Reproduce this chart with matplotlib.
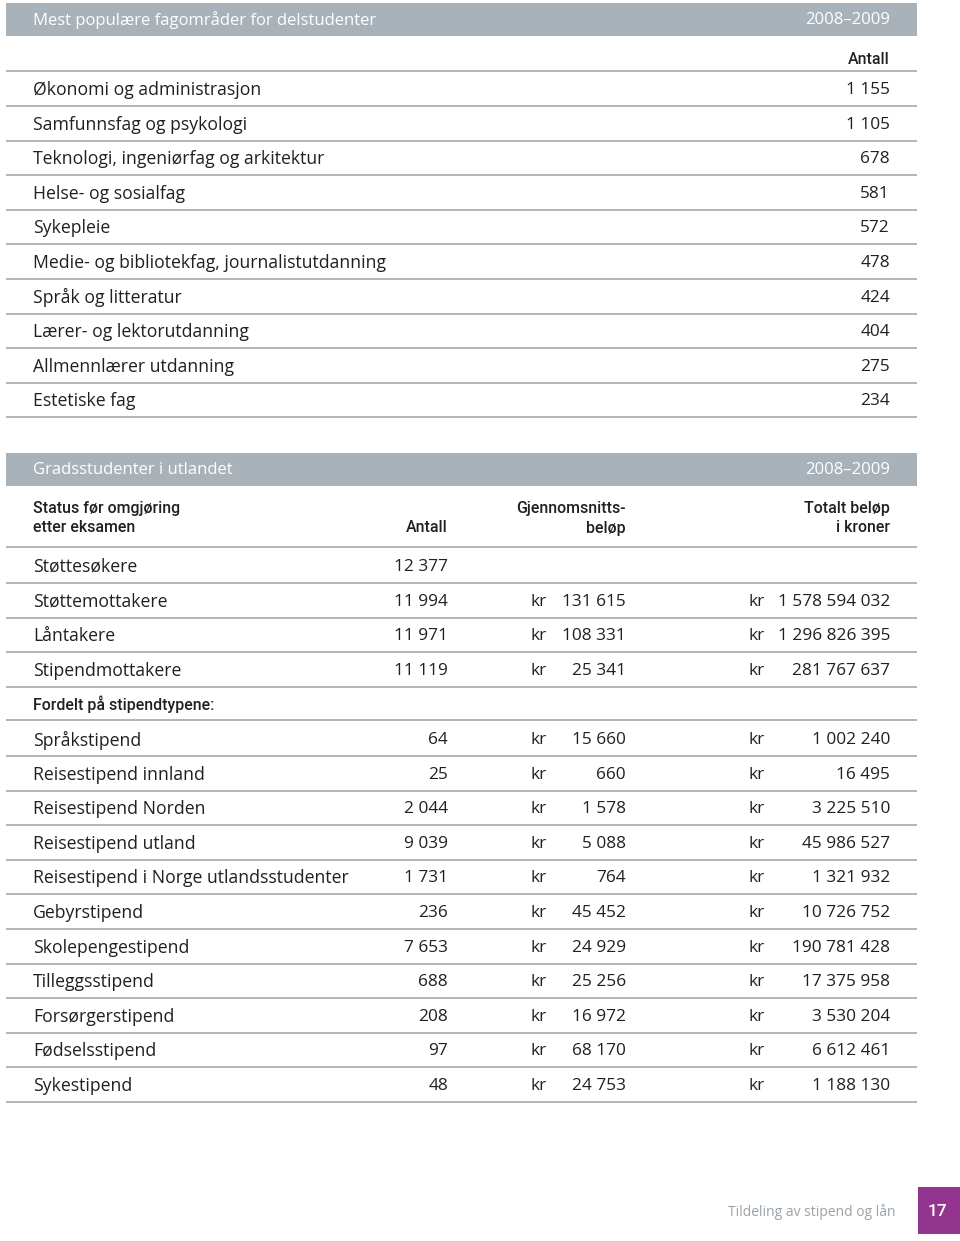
import matplotlib.pyplot as plt

# top table: most popular fields for exchange students
fag = ['Økonomi og administrasjon', 'Samfunnsfag og psykologi',
       'Teknologi, ingeniørfag og arkitektur', 'Helse- og sosialfag', 'Sykepleie',
       'Medie- og bibliotekfag, journalistutdanning', 'Språk og litteratur',
       'Lærer- og lektorutdanning', 'Allmennlærer utdanning', 'Estetiske fag']
fag_antall = ['1 155', '1 105', '678', '581', '572', '478', '424', '404', '275', '234']

# bottom table: degree students abroad
status = ['Støttesøkere', 'Støttemottakere', 'Låntakere', 'Stipendmottakere']
status_antall = ['12 377', '11 994', '11 971', '11 119']
status_snitt = ['', '131 615', '108 331', '25 341']
status_total = ['', '1 578 594 032', '1 296 826 395', '281 767 637']

stipend = ['Språkstipend', 'Reisestipend innland', 'Reisestipend Norden',
           'Reisestipend utland', 'Reisestipend i Norge utlandsstudenter',
           'Gebyrstipend', 'Skolepengestipend', 'Tilleggsstipend',
           'Forsørgerstipend', 'Fødselsstipend', 'Sykestipend']
stipend_antall = ['64', '25', '2 044', '9 039', '1 731', '236', '7 653', '688',
                  '208', '97', '48']
stipend_snitt = ['15 660', '660', '1 578', '5 088', '764', '45 452', '24 929',
                 '25 256', '16 972', '68 170', '24 753']
stipend_total = ['1 002 240', '16 495', '3 225 510', '45 986 527', '1 321 932',
                 '10 726 752', '190 781 428', '17 375 958', '3 530 204',
                 '6 612 461', '1 188 130']

plt.rcParams['font.family'] = ['Open Sans', 'DejaVu Sans']

GREY = '#a9b2b9'
LINE = '#b4b4b4'
INK = '#231f20'
ROW = 34.6
FS = 12.7   # labels
FN = 12.4   # numbers
X0, X1 = 6, 917

fig = plt.figure(figsize=(9.6, 12.41), dpi=100)
ax = fig.add_axes([0, 0, 1, 1])
ax.set_xlim(0, 960)
ax.set_ylim(1241, 0)
ax.axis('off')

# bold column headers
hd = dict(fontsize=11.4, color=INK, va='center', weight='medium',
          family=['Roboto', 'DejaVu Sans'])


def bar(y0, y1, title):
    ax.fill_between([X0, X1], y0, y1, color=GREY, lw=0)
    yc = (y0 + y1) / 2 + 1
    ax.text(33, yc, title, color='white', fontsize=12, va='center')
    ax.text(890, yc, '2008–2009', color='white', fontsize=12, va='center', ha='right')


def rule(y):
    ax.plot([X0, X1], [y, y], color=LINE, lw=1.4, solid_capstyle='butt')


# --- table 1
bar(3, 36, 'Mest populære fagområder for delstudenter')
ax.text(890, 59, 'Antall', ha='right', **hd)
rule(71)
for i, (name, n) in enumerate(zip(fag, fag_antall)):
    y = 89 + i * ROW
    ax.text(33, y + 1, name, fontsize=FS, color=INK, va='center')
    ax.text(890, y + 1, n, fontsize=FN, color=INK, va='center', ha='right')
    rule(y + 17)

# --- table 2
bar(453, 486, 'Gradsstudenter i utlandet')
ax.text(33, 508, 'Status før omgjøring', **hd)
ax.text(33, 528, 'etter eksamen', **hd)
ax.text(448, 528, 'Antall', ha='right', **hd)
ax.text(626, 508, 'Gjennomsnitts-', ha='right', **hd)
ax.text(626, 528, 'beløp', ha='right', **hd)
ax.text(890, 508, 'Totalt beløp', ha='right', **hd)
ax.text(890, 528, 'i kroner', ha='right', **hd)
rule(547)


def datarow(y, name, n, snitt, total):
    ax.text(33, y + 1, name, fontsize=FS, color=INK, va='center')
    ax.text(448, y + 1, n, fontsize=FN, color=INK, va='center', ha='right')
    if snitt:
        ax.text(531, y + 1, 'kr', fontsize=FN, color=INK, va='center')
        ax.text(626, y + 1, snitt, fontsize=FN, color=INK, va='center', ha='right')
    if total:
        ax.text(748, y + 1, 'kr', fontsize=FN, color=INK, va='center')
        ax.text(890, y + 1, total, fontsize=FN, color=INK, va='center', ha='right')
    rule(y + 17)


for i in range(len(status)):
    datarow(566 + i * ROW, status[i], status_antall[i], status_snitt[i], status_total[i])

ax.text(33, 704, 'Fordelt på stipendtypene:', **hd)
rule(720)

for i in range(len(stipend)):
    datarow(739 + i * ROW, stipend[i], stipend_antall[i], stipend_snitt[i], stipend_total[i])

# --- footer
ax.text(895, 1212, 'Tildeling av stipend og lån', fontsize=10, color='#9aa3aa',
        va='center', ha='right')
ax.fill_between([918, 960], 1187, 1234, color='#93348f', lw=0)
ax.text(937, 1211, '17', fontsize=12.5, color='white', va='center', ha='center',
        weight='medium', family=['Roboto', 'DejaVu Sans'])

fig.savefig('out.png', dpi=100)
